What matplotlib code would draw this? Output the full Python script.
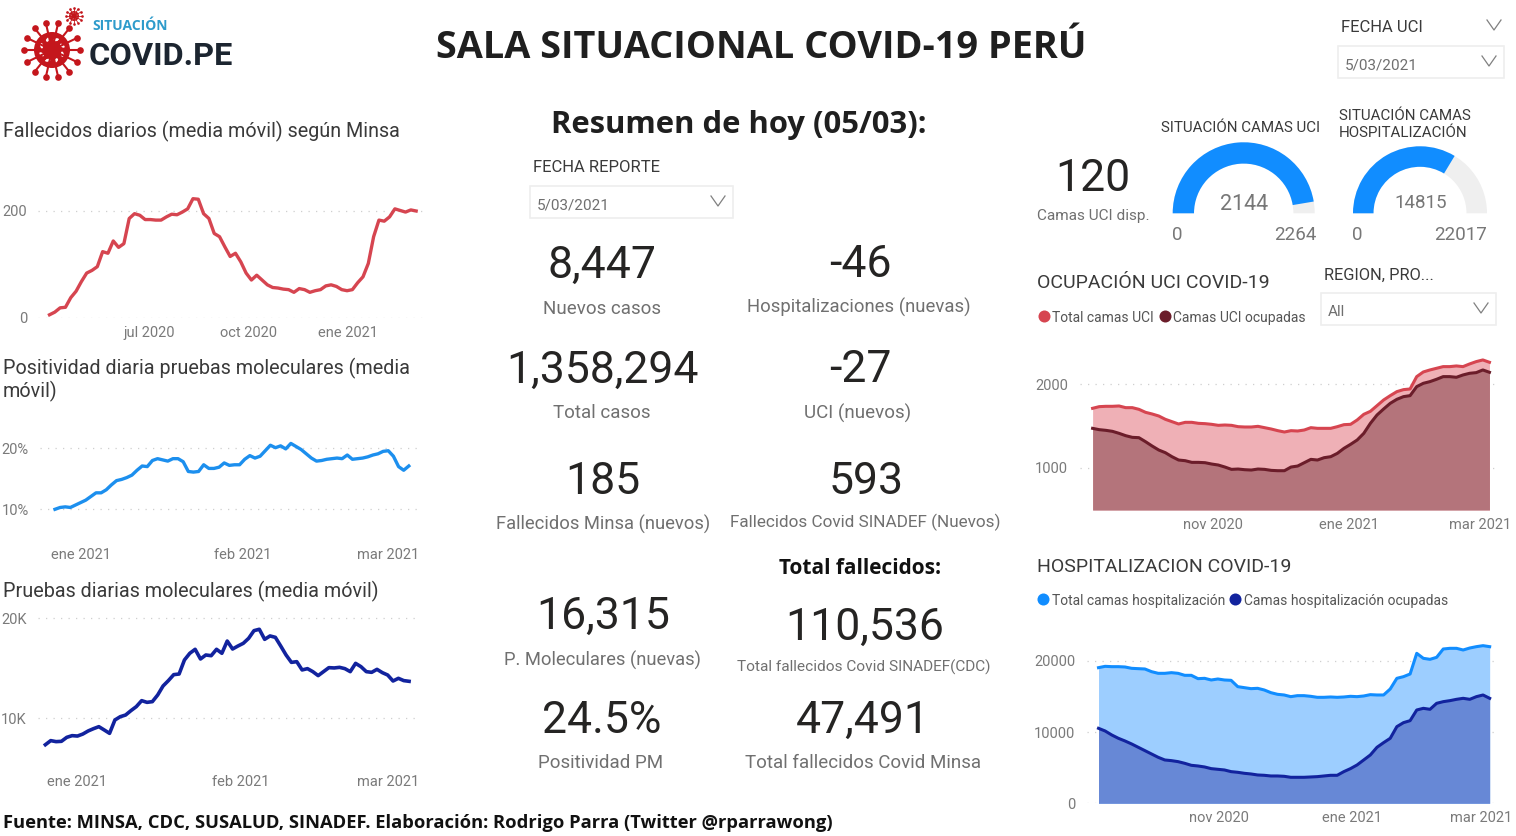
"""
plot.py — Sala situacional COVID-19 Perú (5/03/2021), tablero recreado con matplotlib.
"""

import math

import matplotlib
matplotlib.use("Agg")

import matplotlib.dates as mdates
import matplotlib.patches as mpatches
import matplotlib.pyplot as plt
import pandas as pd

# ---------------------------------------------------------------------------
# Datos
# ---------------------------------------------------------------------------

fallecidos_diarios = [
    6, 11, 19, 20, 38, 50, 68, 84, 89, 96, 124, 121, 144, 132, 139, 186, 195, 192,
    184, 184, 183, 183, 189, 194, 193, 198, 204, 223, 222, 195, 186, 158, 152, 133,
    115, 121, 105, 84, 71, 80, 71, 62, 57, 56, 54, 53, 48, 55, 53, 48, 51, 53, 60,
    62, 59, 53, 51, 53, 66, 77, 102, 152, 183, 181, 189, 204, 201, 198, 202, 200,
]
positividad_diaria = [
    10.0, 10.3, 10.4, 10.3, 10.7, 11.1, 11.5, 12.1, 12.7, 12.7, 13.2, 14.0, 14.7,
    14.9, 15.2, 15.6, 16.4, 17.1, 17.0, 18.0, 18.3, 18.1, 17.9, 18.3, 18.3, 17.8,
    16.2, 16.1, 16.2, 17.3, 16.7, 16.7, 16.9, 17.6, 17.2, 17.3, 17.3, 18.2, 18.8,
    18.4, 18.7, 19.6, 20.5, 20.1, 20.4, 19.9, 20.8, 20.3, 19.8, 19.1, 18.4, 17.9,
    18.0, 18.2, 18.3, 18.4, 18.3, 18.9, 18.2, 18.3, 18.4, 18.6, 18.9, 19.1, 19.5,
    19.6, 18.7, 17.0, 16.4, 17.1,
]
pruebas_diarias = [
    7320, 7730, 7630, 7660, 8060, 8230, 8190, 8390, 8700, 8930, 9130, 8800, 8460,
    9800, 10130, 10300, 10740, 11140, 11740, 11570, 11640, 12310, 13210, 13750,
    14350, 14410, 15820, 16490, 16890, 15920, 16320, 16250, 16890, 16490, 17720,
    16920, 17220, 17490, 17990, 18760, 18900, 17890, 18230, 18090, 17220, 16320,
    15580, 15650, 14820, 14950, 14650, 14250, 14650, 15050, 15020, 15080, 14950,
    14650, 15480, 15150, 14650, 14580, 14880, 14550, 14310, 13710, 13980, 13750,
    13680,
]
uci_total = [
    1712, 1732, 1736, 1736, 1740, 1720, 1720, 1700, 1664, 1644, 1620, 1580, 1552,
    1524, 1544, 1544, 1532, 1528, 1520, 1508, 1512, 1508, 1492, 1488, 1488, 1496,
    1480, 1464, 1444, 1428, 1444, 1440, 1452, 1480, 1472, 1472, 1472, 1492, 1516,
    1520, 1572, 1640, 1676, 1744, 1812, 1864, 1912, 1936, 1944, 2092, 2148, 2172,
    2192, 2212, 2212, 2220, 2212, 2244, 2272, 2292, 2264,
]
uci_ocupadas = [
    1472, 1456, 1448, 1436, 1412, 1384, 1364, 1360, 1312, 1260, 1212, 1180, 1132,
    1092, 1084, 1064, 1064, 1060, 1044, 1032, 1008, 980, 984, 976, 972, 984, 980,
    968, 964, 964, 1008, 1020, 1060, 1100, 1092, 1120, 1132, 1172, 1232, 1280,
    1332, 1412, 1532, 1632, 1704, 1772, 1820, 1852, 1864, 1972, 2012, 2032, 2060,
    2092, 2092, 2084, 2112, 2132, 2140, 2172, 2144,
]
hosp_total = [
    19064, 19251, 19204, 19204, 19158, 18970, 18923, 18877, 18502, 18268, 18268,
    18361, 18268, 17987, 17987, 17518, 17565, 17331, 17471, 17331, 17284, 16394,
    16253, 16113, 16160, 15926, 15551, 15317, 15223, 14989, 15129, 15129, 15036,
    14895, 14895, 14942, 14895, 14942, 15036, 14989, 15082, 15270, 15223, 15223,
    16066, 17565, 17799, 18174, 21078, 20375, 20234, 20516, 21687, 21781, 21781,
    21546, 21827, 22015, 22155, 22015,
]
hosp_ocupadas = [
    10539, 10164, 9602, 9134, 8759, 8338, 7869, 7401, 6932, 6464, 6089, 5996, 5855,
    5621, 5340, 5246, 5106, 4871, 4778, 4684, 4450, 4356, 4216, 4122, 3981, 3935,
    3841, 3841, 3794, 3654, 3654, 3654, 3700, 3747, 3841, 3935, 3935, 4450, 4871,
    5387, 6089, 6792, 7869, 8525, 9134, 10773, 11335, 11616, 13115, 13349, 13209,
    14052, 14286, 14427, 14614, 14755, 14614, 14989, 15223, 14755,
]

kpi_numeros = ["8,447", "-46", "1,358,294", "-27", "185", "593", "16,315",
               "110,536", "24.5%", "47,491", "120"]
kpi_etiquetas = ["Nuevos casos", "Hospitalizaciones (nuevas)", "Total casos",
                 "UCI (nuevos)", "Fallecidos Minsa (nuevos)",
                 "Fallecidos Covid SINADEF (Nuevos)", "P. Moleculares (nuevas)",
                 "Total fallecidos Covid SINADEF(CDC)", "Positividad PM",
                 "Total fallecidos Covid Minsa", "Camas UCI disp."]

gauge_uci = (2144, 2264)
gauge_hosp = (14815, 22017)

# ---------------------------------------------------------------------------
# Estilo
# ---------------------------------------------------------------------------

W, H = 1516, 836
DIN = ["Roboto", "DejaVu Sans"]
BOLD = ["Open Sans", "DejaVu Sans"]
TEXT_DARK = "#252423"
TEXT_TITLE = "#3a3a3a"
TEXT_GRAY = "#6f6f6f"
TICK_GRAY = "#7a7a7a"
BOX_EDGE = "#eeeeee"
GRID = "#cfcfcf"
RED = "#D64550"
WINE = "#6B1D2A"
BLUE = "#118DFF"
NAVY = "#12239E"
LOGO_RED = "#C4161C"

plt.rcParams["font.family"] = DIN

fig = plt.figure(figsize=(W / 100, H / 100), dpi=100, facecolor="white")

# capa en píxeles para textos, cajas y gauges
ov = fig.add_axes([0, 0, 1, 1], zorder=5)
ov.set_xlim(0, W)
ov.set_ylim(H, 0)
ov.axis("off")
ov.patch.set_alpha(0)


def chart_axes(x_px, x_dates, y_px, y_vals, left, right, top, bottom):
    """Ejes cuya escala se fija con dos referencias (píxel, valor) en cada eje."""
    ax = fig.add_axes([left / W, 1 - bottom / H, (right - left) / W, (bottom - top) / H])
    d0, d1 = [mdates.date2num(pd.Timestamp(d)) for d in x_dates]
    xs = (d1 - d0) / (x_px[1] - x_px[0])
    ax.set_xlim(d0 + (left - x_px[0]) * xs, d0 + (right - x_px[0]) * xs)
    ys = (y_vals[1] - y_vals[0]) / (y_px[1] - y_px[0])
    ax.set_ylim(y_vals[0] + (bottom - y_px[0]) * ys, y_vals[0] + (top - y_px[0]) * ys)
    ax.set_facecolor("none")
    for s in ax.spines.values():
        s.set_visible(False)
    ax.tick_params(length=0, labelsize=10.5, labelcolor=TICK_GRAY, pad=5.5)
    ax.grid(axis="y", color=GRID, lw=0.9, ls=(0, (1, 5)))
    ax.grid(axis="x", visible=False)
    ax.set_axisbelow(True)
    return ax


def set_ticks(ax, y_ticks, y_labels, x_dates, x_labels, y_pad=8):
    ax.set_yticks(y_ticks, y_labels)
    ax.set_xticks([mdates.date2num(pd.Timestamp(d)) for d in x_dates], x_labels)
    ax.tick_params(axis="y", pad=y_pad)


def dates(start, end, n):
    return pd.date_range(start, end, periods=n)


def txt(x, y, s, size, color=TEXT_TITLE, ha="left", family=None, weight="normal"):
    return ov.text(x, y - 1.5, s, fontsize=size, color=color, ha=ha, va="center_baseline",
                   family=family or DIN, fontweight=weight)


def chevron(x, y, w=7, h=5, color="#808080"):
    ov.plot([x - w, x, x + w], [y - h, y + h, y - h], color=color, lw=0.9)


def dropdown(x0, y0, x1, y1, label):
    ov.add_patch(mpatches.Rectangle((x0, y0), x1 - x0, y1 - y0, fc="white",
                                    ec=BOX_EDGE, lw=1.2))
    txt(x0 + 7, (y0 + y1) / 2 + 3, label, 11, TEXT_GRAY)
    chevron(x1 - 15, (y0 + y1) / 2 - 1)


def gauge(cx, cy, r_out, r_in, value, vmax):
    frac = value / vmax
    width = r_out - r_in
    # eje y invertido: la mitad superior en pantalla va de 180 a 360 grados
    ov.add_patch(mpatches.Wedge((cx, cy), r_out, 180, 360, width=width, fc="#EFEFEF", ec="none"))
    ov.add_patch(mpatches.Wedge((cx, cy), r_out, 180, 180 + 180 * frac, width=width, fc=BLUE, ec="none"))


def legend_dot(x, y, color):
    ov.scatter([x], [y], s=75, color=color, linewidths=0)


def virus(cx, cy, r, spikes, lw):
    ov.add_patch(mpatches.Circle((cx, cy), r, fc=LOGO_RED, ec="none"))
    for i in range(spikes):
        a = 2 * math.pi * i / spikes
        x1, y1 = cx + r * 1.55 * math.cos(a), cy + r * 1.55 * math.sin(a)
        ov.plot([cx, x1], [cy, y1], color=LOGO_RED, lw=lw, solid_capstyle="round")
        ov.scatter([x1], [y1], s=(lw * 3.2) ** 2, color=LOGO_RED, linewidths=0)
    # manchas claras del cuerpo
    for i in range(8):
        a = 2 * math.pi * (i + 0.5) / 8
        ov.add_patch(mpatches.Ellipse((cx + r * 0.62 * math.cos(a), cy + r * 0.62 * math.sin(a)),
                                      r * 0.3, r * 0.16, angle=math.degrees(a) + 60,
                                      fc="white", ec="none"))
    ov.add_patch(mpatches.Circle((cx, cy), r * 0.13, fc="white", ec="none"))


# ---------------------------------------------------------------------------
# Columna izquierda
# ---------------------------------------------------------------------------

ax1 = chart_axes((149, 348), ("2020-07-01", "2021-01-01"), (318, 211), (0, 200), 38, 428, 190, 318)
ax1.plot(dates("2020-03-31", "2021-03-05", len(fallecidos_diarios)), fallecidos_diarios,
         color=RED, lw=2.4, solid_joinstyle="round")
set_ticks(ax1, [0, 200], ["0", "200"], ["2020-07-01", "2020-10-01", "2021-01-01"],
          ["jul 2020", "oct 2020", "ene 2021"])

ax2 = chart_axes((81, 388), ("2021-01-01", "2021-03-01"), (509.3, 448.3), (10, 20), 40, 417, 430, 540)
ax2.plot(dates("2020-12-27", "2021-03-05", len(positividad_diaria)), positividad_diaria,
         color="#1C8FEE", lw=2.4, solid_joinstyle="round")
set_ticks(ax2, [10, 20], ["10%", "20%"], ["2021-01-01", "2021-02-01", "2021-03-01"],
          ["ene 2021", "feb 2021", "mar 2021"])

ax3 = chart_axes((77, 388), ("2021-01-01", "2021-03-01"), (718, 618.3), (10000, 20000), 38, 421, 605, 767)
ax3.plot(dates("2020-12-26", "2021-03-05", len(pruebas_diarias)), pruebas_diarias,
         color=NAVY, lw=2.6, solid_joinstyle="round")
set_ticks(ax3, [10000, 20000], ["10K", "20K"], ["2021-01-01", "2021-02-01", "2021-03-01"],
          ["ene 2021", "feb 2021", "mar 2021"])

txt(3, 131, "Fallecidos diarios (media móvil) según Minsa", 14.2)
txt(3, 368, "Positividad diaria pruebas moleculares (media", 14.2)
txt(3, 391, "móvil)", 14.2)
txt(3, 591, "Pruebas diarias moleculares (media móvil)", 14.2)

# ---------------------------------------------------------------------------
# Columna derecha: áreas
# ---------------------------------------------------------------------------

ax4 = chart_axes((1213, 1349), ("2020-11-01", "2021-01-01"), (467.7, 384.3), (1000, 2000), 1080, 1498, 355, 510)
fechas_uci = dates("2020-09-08", "2021-03-05", len(uci_total))
base4 = ax4.get_ylim()[0]
ax4.fill_between(fechas_uci, base4, uci_total, color="#EFB0B6", lw=0, zorder=2)
ax4.fill_between(fechas_uci, base4, uci_ocupadas, color="#B4747B", lw=0, zorder=3)
ax4.plot(fechas_uci, uci_total, color=RED, lw=2.2, zorder=4)
ax4.plot(fechas_uci, uci_ocupadas, color=WINE, lw=2.2, zorder=5)
set_ticks(ax4, [1000, 2000], ["1000", "2000"], ["2020-11-01", "2021-01-01", "2021-03-01"],
          ["nov 2020", "ene 2021", "mar 2021"], y_pad=8.6)

ax5 = chart_axes((1218.7, 1352), ("2020-11-01", "2021-01-01"), (803.3, 661), (0, 20000), 1087, 1498, 640, 803.3)
fechas_hosp = dates("2020-09-07", "2021-03-05", len(hosp_total))
ax5.fill_between(fechas_hosp, 0, hosp_total, color="#9DCEFF", lw=0, zorder=2)
ax5.fill_between(fechas_hosp, 0, hosp_ocupadas, color="#6788D6", lw=0, zorder=3)
ax5.plot(fechas_hosp, hosp_total, color=BLUE, lw=2.2, zorder=4)
ax5.plot(fechas_hosp, hosp_ocupadas, color=NAVY, lw=2.2, zorder=5)
set_ticks(ax5, [0, 10000, 20000], ["0", "10000", "20000"], ["2020-11-01", "2021-01-01", "2021-03-01"],
          ["nov 2020", "ene 2021", "mar 2021"], y_pad=8.6)

txt(1037, 283, "OCUPACIÓN UCI COVID-19", 14)
legend_dot(1044, 316, RED)
txt(1052, 318, "Total camas UCI", 10, "#555555")
legend_dot(1165, 316, WINE)
txt(1173, 318, "Camas UCI ocupadas", 10, "#555555")

txt(1037, 566, "HOSPITALIZACION COVID-19", 14)
legend_dot(1043, 599, BLUE)
txt(1052, 601, "Total camas hospitalización", 10, "#555555")
legend_dot(1235, 599, NAVY)
txt(1244, 601, "Camas hospitalización ocupadas", 10, "#555555")

# ---------------------------------------------------------------------------
# Encabezado, selectores y gauges
# ---------------------------------------------------------------------------

virus(52, 50, 18, 14, 1.5)
virus(74, 16, 5, 12, 0.6)
txt(92, 26, "SITUACIÓN", 10, "#2E9BCB", family=BOLD, weight="bold")
ov.text(89, 53, "COVID.PE", fontsize=23.4, color="#1C2530", ha="left", va="center_baseline",
        family="Roboto", fontweight="bold")

txt(761, 45, "SALA SITUACIONAL COVID-19 PERÚ", 27.3, "#1f1f1f", ha="center", family=BOLD, weight="bold")
txt(739, 123, "Resumen de hoy (05/03):", 22.3, "#1f1f1f", ha="center", family=BOLD, weight="bold")

txt(1341, 28, "FECHA UCI", 12)
chevron(1494, 25, color="#808080")
dropdown(1338, 46, 1504, 78, "5/03/2021")
txt(533, 168, "FECHA REPORTE", 12)
dropdown(530, 186, 733, 218, "5/03/2021")
txt(1324, 275, "REGION, PRO...", 11.8)
dropdown(1321, 293, 1496, 325, "All")

txt(1241, 128, "SITUACIÓN CAMAS UCI", 10.9, ha="center")
txt(1339, 116, "SITUACIÓN CAMAS", 10.9)
txt(1339, 133, "HOSPITALIZACIÓN", 10.9)

gauge(1243.7, 213.3, 71, 49.7, *gauge_uci)
gauge(1420, 213.3, 67, 46.5, *gauge_hosp)
txt(1244, 203, str(gauge_uci[0]), 15.5, "#777777", ha="center")
txt(1177, 234, "0", 13.5, "#777777", ha="center")
txt(1295, 234, str(gauge_uci[1]), 13.5, "#777777", ha="center")
txt(1421, 203, str(gauge_hosp[0]), 13.5, "#777777", ha="center")
txt(1357, 234, "0", 13.5, "#777777", ha="center")
txt(1461, 234, str(gauge_hosp[1]), 13.5, "#777777", ha="center")

# ---------------------------------------------------------------------------
# KPIs
# ---------------------------------------------------------------------------

num_pos = [(602, 263), (860, 262), (603, 368), (860, 367), (603, 479), (866, 479),
           (603, 614), (865, 625), (602, 718), (863, 718), (1093, 176)]
lab_pos = [(602, 309), (859, 307), (602, 413), (858, 413), (603, 524), (865, 522),
           (602, 660), (864, 667), (601, 763), (863, 763), (1093, 216)]
lab_size = [13.5, 13.3, 13.5, 13.5, 13.2, 12.3, 13.2, 11.1, 13.5, 13.5, 11.1]

for s, (x, y) in zip(kpi_numeros, num_pos):
    txt(x, y, s, 32, TEXT_DARK, ha="center")
for s, (x, y), fs in zip(kpi_etiquetas, lab_pos, lab_size):
    txt(x, y, s, fs, "#707070", ha="center")

txt(860, 568, "Total fallecidos:", 15, "#111111", ha="center", family=BOLD, weight="bold")
txt(3, 822, "Fuente: MINSA, CDC, SUSALUD, SINADEF. Elaboración: Rodrigo Parra (Twitter @rparrawong)",
    13.2, "#111111", family=BOLD, weight="bold")

fig.savefig("out.png", dpi=100, facecolor="white")
plt.close(fig)
